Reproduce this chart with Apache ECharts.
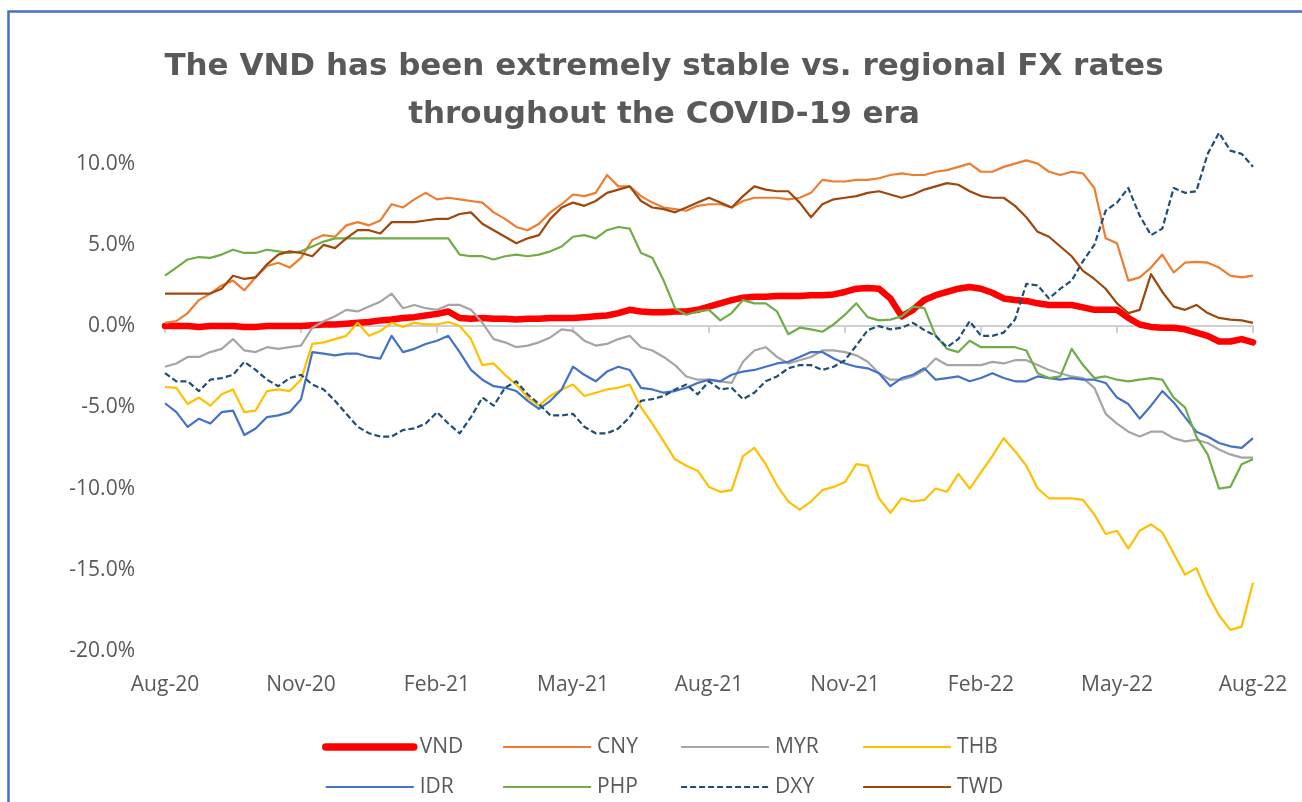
<!DOCTYPE html>
<html>
<head>
<meta charset="utf-8">
<script src="https://cdn.jsdelivr.net/npm/echarts@6/dist/echarts.min.js"></script>
<style>
  html, body { margin: 0; padding: 0; background: #ffffff; }
  #chart { width: 1302px; height: 802px; }
</style>
</head>
<body>
<div id="chart"></div>
<script>
// Quarter-month samples, Aug-20 .. Aug-22 (97 points). Values are % change.
const tickLabels = ['Aug-20', 'Nov-20', 'Feb-21', 'May-21', 'Aug-21', 'Nov-21', 'Feb-22', 'May-22', 'Aug-22'];

const VND = [
  0.0, 0.0, 0.0, -0.05, 0.0, 0.0, 0.0, -0.05, -0.05, 0.0, 0.0, 0.0,
  0.0, 0.05, 0.1, 0.1, 0.15, 0.2, 0.25, 0.35, 0.4, 0.5, 0.55, 0.65,
  0.75, 0.9, 0.5, 0.45, 0.5, 0.45, 0.45, 0.4, 0.45, 0.45, 0.5, 0.5,
  0.5, 0.55, 0.6, 0.65, 0.8, 1.0, 0.9, 0.85, 0.85, 0.9, 0.9, 1.0,
  1.2, 1.4, 1.6, 1.75, 1.8, 1.8, 1.85, 1.85, 1.85, 1.9, 1.9, 1.95,
  2.1, 2.3, 2.35, 2.3, 1.7, 0.6, 1.0, 1.6, 1.9, 2.1, 2.3, 2.4,
  2.3, 2.05, 1.7, 1.6, 1.55, 1.4, 1.3, 1.3, 1.3, 1.15, 1.0, 1.0,
  1.0, 0.5, 0.1, -0.05, -0.1, -0.1, -0.2, -0.4, -0.6, -0.95, -0.95, -0.8,
  -1.0
];
const CNY = [
  0.2, 0.3, 0.8, 1.6, 2.0, 2.5, 2.8, 2.2, 3.0, 3.7, 3.9, 3.6,
  4.2, 5.3, 5.6, 5.5, 6.2, 6.4, 6.2, 6.5, 7.5, 7.3, 7.8, 8.2,
  7.8, 7.9, 7.8, 7.7, 7.6, 7.0, 6.6, 6.1, 5.9, 6.3, 7.0, 7.5,
  8.1, 8.0, 8.2, 9.3, 8.6, 8.6, 8.0, 7.6, 7.3, 7.2, 7.1, 7.4,
  7.5, 7.5, 7.3, 7.7, 7.9, 7.9, 7.9, 7.8, 7.9, 8.2, 9.0, 8.9,
  8.9, 9.0, 9.0, 9.1, 9.3, 9.4, 9.3, 9.3, 9.5, 9.6, 9.8, 10.0,
  9.5, 9.5, 9.8, 10.0, 10.2, 10.0, 9.5, 9.3, 9.5, 9.4, 8.5, 5.4,
  5.1, 2.8, 3.0, 3.6, 4.4, 3.3, 3.9, 3.95, 3.9, 3.6, 3.1, 3.0,
  3.1
];
const MYR = [
  -2.5, -2.3, -1.9, -1.9, -1.6, -1.4, -0.8, -1.5, -1.6, -1.3, -1.4, -1.3,
  -1.2, -0.1, 0.3, 0.6, 1.0, 0.9, 1.2, 1.5, 2.0, 1.1, 1.3, 1.1,
  1.0, 1.3, 1.3, 1.0, 0.2, -0.8, -1.0, -1.3, -1.2, -1.0, -0.7, -0.2,
  -0.3, -0.9, -1.2, -1.1, -0.8, -0.6, -1.3, -1.5, -1.9, -2.4, -3.1, -3.3,
  -3.3, -3.4, -3.5, -2.2, -1.5, -1.3, -1.9, -2.3, -2.1, -1.9, -1.5, -1.5,
  -1.6, -1.8, -2.2, -2.9, -3.3, -3.3, -3.1, -2.7, -2.0, -2.4, -2.4, -2.4,
  -2.4, -2.2, -2.3, -2.1, -2.1, -2.4, -2.7, -2.9, -3.1, -3.2, -3.8, -5.4,
  -6.0, -6.5, -6.8, -6.5, -6.5, -6.9, -7.1, -7.0, -7.2, -7.6, -7.9, -8.1,
  -8.1
];
const THB = [
  -3.75, -3.8, -4.8, -4.4, -4.9, -4.2, -3.9, -5.3, -5.2, -4.0, -3.9, -4.0,
  -3.3, -1.1, -1.0, -0.8, -0.6, 0.2, -0.6, -0.3, 0.2, -0.05, 0.2, 0.1,
  0.1, 0.25, 0.0, -0.8, -2.4, -2.3, -3.0, -3.6, -4.4, -4.9, -4.3, -3.9,
  -3.6, -4.3, -4.1, -3.9, -3.8, -3.6, -5.0, -6.0, -7.1, -8.2, -8.6, -8.9,
  -9.9, -10.2, -10.1, -8.0, -7.5, -8.5, -9.8, -10.8, -11.3, -10.8, -10.1, -9.9,
  -9.6, -8.5, -8.6, -10.6, -11.5, -10.6, -10.8, -10.7, -10.0, -10.2, -9.1, -10.0,
  -9.0, -8.0, -6.9, -7.7, -8.6, -10.0, -10.6, -10.6, -10.6, -10.7, -11.6, -12.8,
  -12.6, -13.7, -12.6, -12.2, -12.7, -14.0, -15.3, -14.9, -16.5, -17.8, -18.7, -18.5,
  -15.8
];
const IDR = [
  -4.75, -5.3, -6.2, -5.7, -6.0, -5.3, -5.2, -6.7, -6.3, -5.6, -5.5, -5.3,
  -4.5, -1.6, -1.7, -1.8, -1.7, -1.7, -1.9, -2.0, -0.6, -1.6, -1.4, -1.1,
  -0.9, -0.6, -1.6, -2.7, -3.3, -3.7, -3.8, -4.0, -4.6, -5.1, -4.6, -3.9,
  -2.5, -3.0, -3.4, -2.8, -2.5, -2.7, -3.8, -3.9, -4.1, -4.0, -3.8, -3.5,
  -3.3, -3.4, -3.0, -2.8, -2.7, -2.5, -2.3, -2.2, -1.9, -1.6, -1.6, -2.0,
  -2.3, -2.5, -2.6, -2.9, -3.7, -3.2, -3.0, -2.6, -3.3, -3.2, -3.1, -3.4,
  -3.2, -2.9, -3.2, -3.4, -3.4, -3.1, -3.2, -3.3, -3.2, -3.3, -3.3, -3.5,
  -4.4, -4.8, -5.7, -4.9, -4.0, -4.7, -5.6, -6.5, -6.8, -7.2, -7.4, -7.5,
  -6.9
];
const PHP = [
  3.1, 3.6, 4.1, 4.25, 4.2, 4.4, 4.7, 4.5, 4.5, 4.7, 4.6, 4.5,
  4.6, 4.9, 5.2, 5.4, 5.4, 5.4, 5.4, 5.4, 5.4, 5.4, 5.4, 5.4,
  5.4, 5.4, 4.4, 4.3, 4.3, 4.1, 4.3, 4.4, 4.3, 4.4, 4.6, 4.9,
  5.5, 5.6, 5.4, 5.9, 6.1, 6.0, 4.5, 4.2, 2.8, 1.1, 0.7, 0.9,
  1.0, 0.35, 0.8, 1.6, 1.4, 1.4, 0.9, -0.5, -0.1, -0.2, -0.35, 0.1,
  0.7, 1.4, 0.55, 0.35, 0.4, 0.6, 1.2, 1.1, -0.6, -1.4, -1.6, -0.9,
  -1.3, -1.3, -1.3, -1.3, -1.5, -2.9, -3.2, -3.1, -1.4, -2.4, -3.2, -3.1,
  -3.3, -3.4, -3.3, -3.2, -3.3, -4.4, -5.0, -6.8, -7.9, -10.0, -9.9, -8.5,
  -8.2
];
const DXY = [
  -2.9, -3.4, -3.4, -4.0, -3.3, -3.2, -3.0, -2.2, -2.7, -3.3, -3.7, -3.2,
  -3.0, -3.6, -3.9, -4.6, -5.4, -6.2, -6.6, -6.8, -6.8, -6.4, -6.3, -6.0,
  -5.3, -6.0, -6.6, -5.6, -4.4, -4.9, -3.8, -3.4, -4.2, -4.8, -5.5, -5.5,
  -5.4, -6.2, -6.6, -6.6, -6.3, -5.6, -4.6, -4.5, -4.3, -3.9, -3.6, -4.2,
  -3.4, -3.9, -3.8, -4.5, -4.1, -3.4, -3.1, -2.6, -2.4, -2.4, -2.7, -2.5,
  -2.1, -1.2, -0.25, 0.0, -0.2, -0.1, 0.2, -0.25, -0.6, -1.3, -0.8, 0.3,
  -0.6, -0.6, -0.4, 0.4, 2.6, 2.5, 1.7, 2.3, 2.8, 4.0, 5.0, 7.1,
  7.6, 8.5, 6.8, 5.6, 6.0, 8.5, 8.2, 8.3, 10.6, 11.9, 10.8, 10.6,
  9.8
];
const TWD = [
  2.0, 2.0, 2.0, 2.0, 2.0, 2.3, 3.1, 2.9, 3.0, 3.8, 4.4, 4.6,
  4.5, 4.3, 5.0, 4.8, 5.4, 5.9, 5.9, 5.7, 6.4, 6.4, 6.4, 6.5,
  6.6, 6.6, 6.9, 7.0, 6.3, 5.9, 5.5, 5.1, 5.4, 5.6, 6.6, 7.3,
  7.6, 7.4, 7.7, 8.2, 8.4, 8.6, 7.7, 7.3, 7.2, 7.0, 7.3, 7.6,
  7.9, 7.6, 7.3, 8.0, 8.6, 8.4, 8.3, 8.3, 7.6, 6.7, 7.5, 7.8,
  7.9, 8.0, 8.2, 8.3, 8.1, 7.9, 8.1, 8.4, 8.6, 8.8, 8.7, 8.3,
  8.0, 7.9, 7.9, 7.4, 6.7, 5.8, 5.5, 4.9, 4.3, 3.4, 2.9, 2.3,
  1.4, 0.8, 1.0, 3.2, 2.1, 1.2, 1.0, 1.3, 0.8, 0.5, 0.4, 0.35,
  0.2
];

const FONT = 'Open Sans';
const TEXT = '#595959';

// pair each value with its position in months from Aug-20
const toPoints = arr => arr.map((v, i) => [i / 4, v]);

const seriesDefs = [
  { name: 'VND', data: VND, color: '#ff0000', width: 6.5, cap: 'round' },
  { name: 'CNY', data: CNY, color: '#ed7d31', width: 2.2 },
  { name: 'MYR', data: MYR, color: '#a5a5a5', width: 2.2 },
  { name: 'THB', data: THB, color: '#ffc000', width: 2.2 },
  { name: 'IDR', data: IDR, color: '#4472c4', width: 2.2 },
  { name: 'PHP', data: PHP, color: '#70ad47', width: 2.2 },
  { name: 'DXY', data: DXY, color: '#1f4e79', width: 2.2, dash: [6, 3] },
  { name: 'TWD', data: TWD, color: '#9e480e', width: 2.2 }
];
const defByName = {};
seriesDefs.forEach(s => { defByName[s.name] = s; });

const series = seriesDefs.map(s => ({
  name: s.name,
  type: 'line',
  xAxisIndex: 0,
  yAxisIndex: 0,
  data: toPoints(s.data),
  symbol: 'none',
  smooth: false,
  color: s.color,
  lineStyle: {
    color: s.color,
    width: s.width,
    type: s.dash || 'solid',
    cap: s.cap || 'butt',
    join: 'round'
  },
  emphasis: { disabled: true }
}));

// legend laid out as four columns of two rows; icons show the line only
const legendColumns = [
  { left: 322, names: ['VND', 'IDR'] },
  { left: 502, names: ['CNY', 'PHP'] },
  { left: 680, names: ['MYR', 'DXY'] },
  { left: 862, names: ['THB', 'TWD'] }
];
const legends = legendColumns.map(c => ({
  left: c.left,
  top: 735,
  orient: 'vertical',
  data: c.names.map(n => {
    const d = defByName[n];
    return {
      name: n,
      lineStyle: {
        color: d.color,
        width: d.name === 'VND' ? 7.5 : d.width,
        type: d.dash || 'solid',
        cap: d.cap || 'butt'
      }
    };
  }),
  itemWidth: 88,
  itemHeight: 14,
  itemGap: 16,
  selectedMode: false,
  padding: 0,
  itemStyle: { opacity: 0 },
  textStyle: { fontFamily: FONT, fontSize: 21, color: TEXT, lineHeight: 24, padding: [0, 0, 0, 1] }
}));

const chart = echarts.init(document.getElementById('chart'), null, { renderer: 'canvas' });
chart.setOption({
  animation: false,
  backgroundColor: '#ffffff',
  title: {
    text: 'The VND has been extremely stable vs. regional FX rates\nthroughout the COVID-19 era',
    left: 659,
    top: 38,
    textAlign: 'center',
    textStyle: {
      fontFamily: 'DejaVu Sans',
      fontWeight: 'bold',
      fontSize: 31,
      lineHeight: 48,
      color: TEXT
    }
  },
  graphic: [{
    type: 'rect',
    left: 6,
    top: 9,
    shape: { width: 1400, height: 900 },
    style: { fill: 'none', stroke: '#4472c4', lineWidth: 2.5 },
    silent: true
  }],
  legend: legends,
  grid: { left: 165, right: 49, top: 123, bottom: 151, containLabel: false },
  xAxis: [
    {
      type: 'value',
      position: 'bottom',
      min: 0,
      max: 24,
      interval: 3,
      axisLine: { show: false, onZero: false },
      axisTick: { show: false },
      splitLine: { show: false },
      axisLabel: {
        margin: 24,
        fontFamily: FONT,
        fontSize: 21,
        color: TEXT,
        formatter: v => tickLabels[Math.round(v / 3)] || ''
      }
    },
    {
      // the zero line with its quarterly tick marks
      type: 'value',
      position: 'top',
      min: 0,
      max: 24,
      interval: 3,
      axisLine: { show: true, onZero: true, lineStyle: { color: '#d0d0d0', width: 2 } },
      axisTick: { show: true, inside: true, length: 7, lineStyle: { color: '#d0d0d0', width: 2 } },
      axisLabel: { show: false },
      splitLine: { show: false }
    }
  ],
  yAxis: {
    type: 'value',
    min: -20,
    max: 12.5,
    interval: 5,
    axisLine: { show: false },
    axisTick: { show: false },
    splitLine: { show: false },
    axisLabel: {
      margin: 30,
      fontFamily: FONT,
      fontSize: 21,
      color: TEXT,
      formatter: v => (Math.abs(v % 5) < 1e-9 ? v.toFixed(1) + '%' : '')
    }
  },
  series: series
});
</script>
</body>
</html>
